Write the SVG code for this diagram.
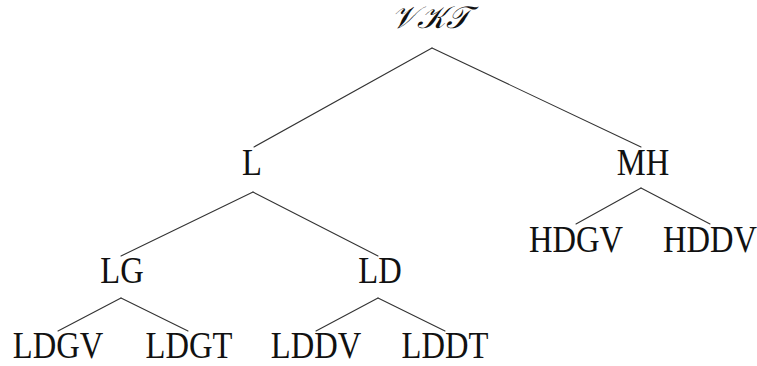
<svg xmlns="http://www.w3.org/2000/svg" width="757" height="366" viewBox="0 0 757 366">
  <style>
    .lbl { font-family: "Liberation Serif", "DejaVu Serif", serif; font-size: 37px; fill: #111; text-anchor: middle; }
    .root { font-family: "DejaVu Serif", "Liberation Serif", serif; font-size: 31px; font-style: italic; fill: #111; text-anchor: middle; }
    .edge { stroke: #333; stroke-width: 1.1; fill: none; stroke-linecap: round; }
  </style>
  <rect width="757" height="366" fill="#fff"/>

  <!-- tree edges -->
  <g id="connectors">
    <line class="edge" x1="432" y1="48" x2="254" y2="147"/>
    <line class="edge" x1="432" y1="48" x2="641" y2="147"/>
    <line class="edge" x1="253" y1="192" x2="121" y2="256"/>
    <line class="edge" x1="253" y1="192" x2="378" y2="256"/>
    <line class="edge" x1="641" y1="188" x2="576" y2="224"/>
    <line class="edge" x1="641" y1="188" x2="710" y2="224"/>
    <line class="edge" x1="121" y1="298" x2="58" y2="331"/>
    <line class="edge" x1="121" y1="298" x2="188" y2="331"/>
    <line class="edge" x1="378" y1="298" x2="316" y2="331"/>
    <line class="edge" x1="378" y1="298" x2="445" y2="331"/>
  </g>

  <!-- nodes -->
  <g id="root"><text class="root" x="430" y="28">𝒱𝒦𝒯</text></g>
  <g id="L"><text class="lbl" transform="translate(252,175) scale(0.88,1)">L</text></g>
  <g id="MH"><text class="lbl" transform="translate(643,175) scale(0.88,1)">MH</text></g>
  <g id="LG"><text class="lbl" transform="translate(122,283) scale(0.88,1)">LG</text></g>
  <g id="LD"><text class="lbl" transform="translate(380,283) scale(0.88,1)">LD</text></g>
  <g id="HDGV"><text class="lbl" transform="translate(576,252) scale(0.88,1)">HDGV</text></g>
  <g id="HDDV"><text class="lbl" transform="translate(710,252) scale(0.88,1)">HDDV</text></g>
  <g id="LDGV"><text class="lbl" transform="translate(58,358) scale(0.88,1)">LDGV</text></g>
  <g id="LDGT"><text class="lbl" transform="translate(189,358) scale(0.88,1)">LDGT</text></g>
  <g id="LDDV"><text class="lbl" transform="translate(316,358) scale(0.88,1)">LDDV</text></g>
  <g id="LDDT"><text class="lbl" transform="translate(445,358) scale(0.88,1)">LDDT</text></g>
</svg>
